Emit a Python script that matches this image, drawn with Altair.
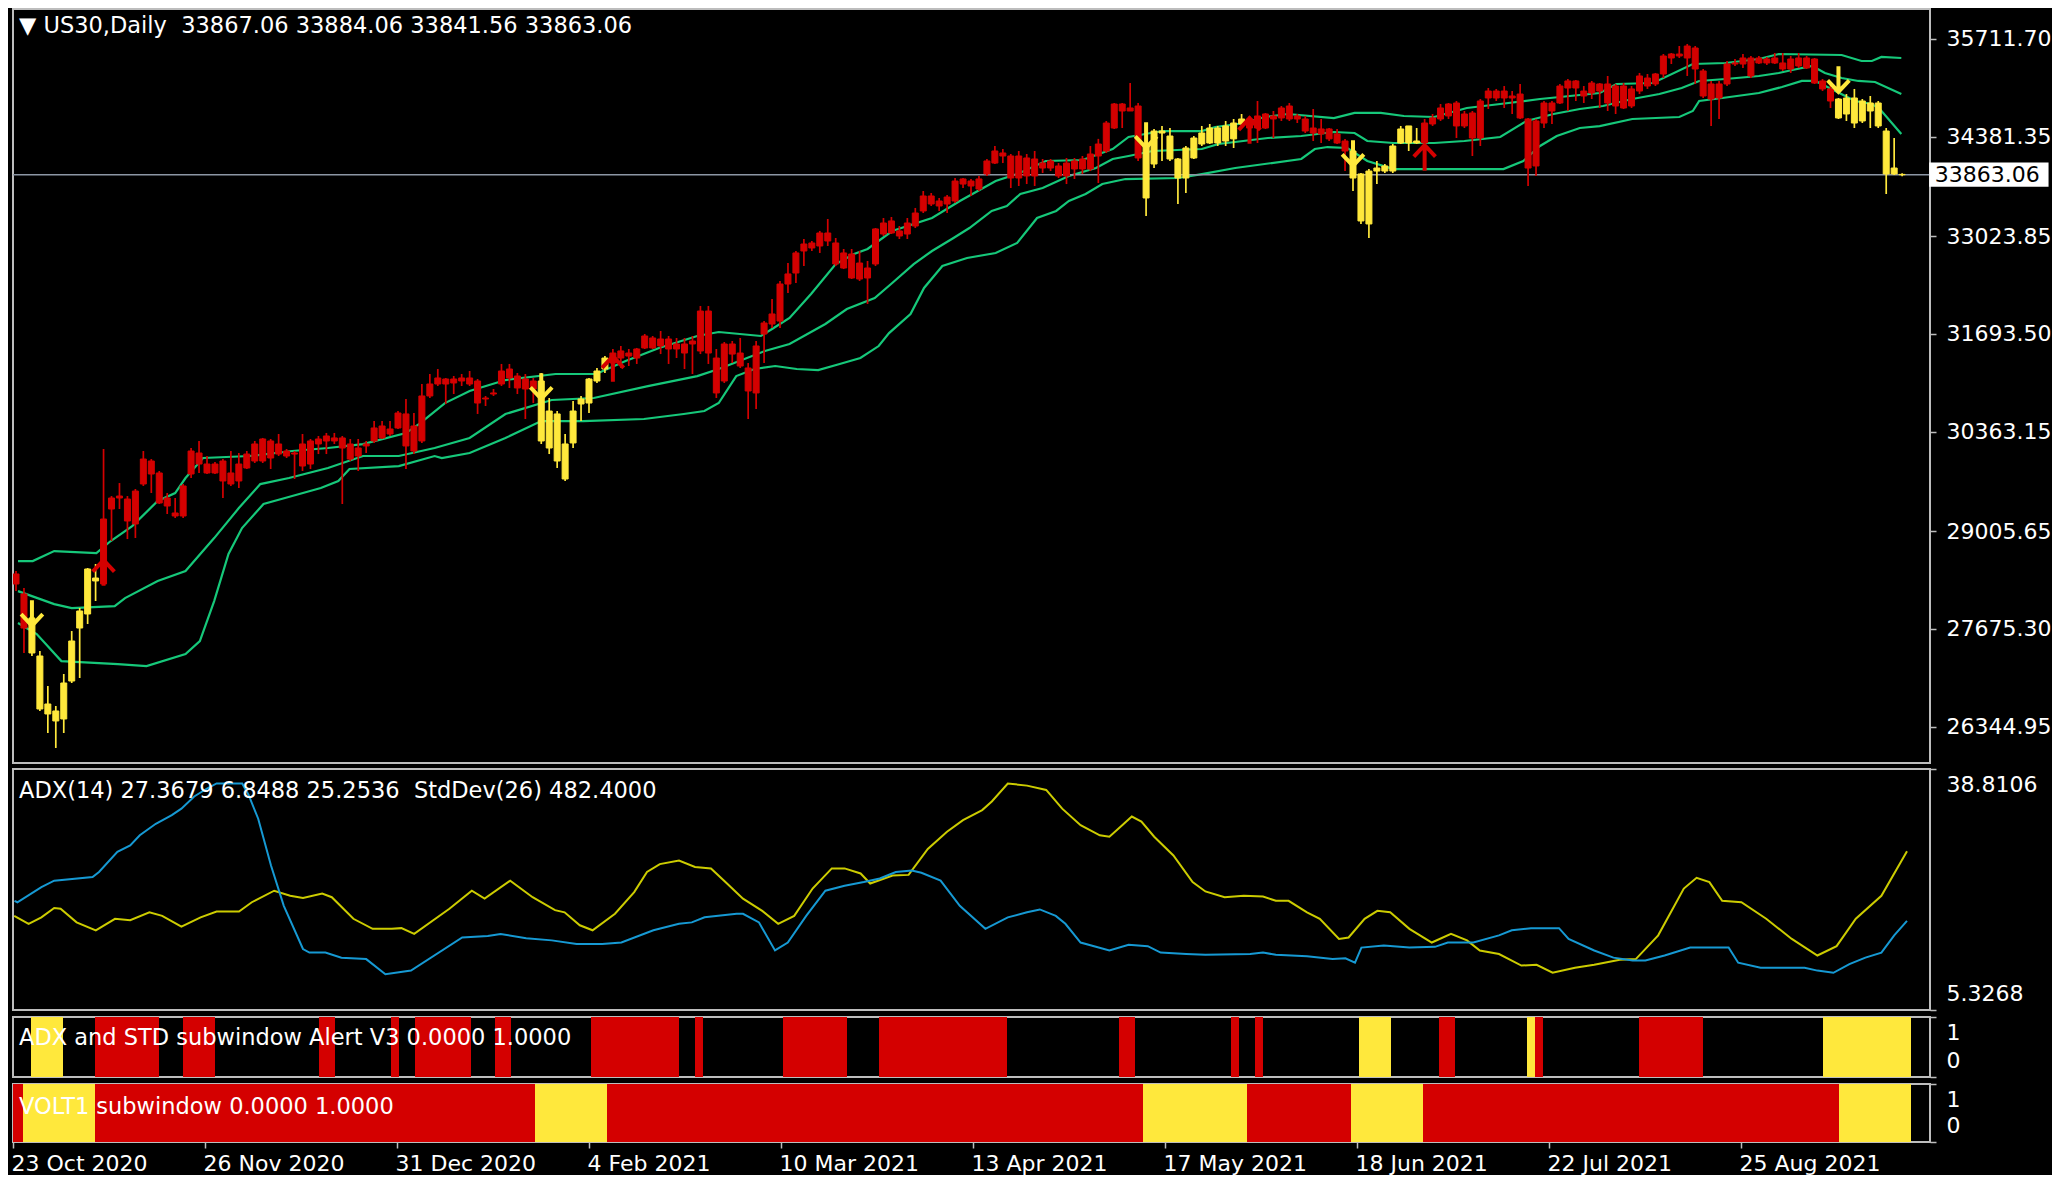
import altair as alt
import pandas as pd

FONT = "DejaVu Sans"
BG = "#000000"
FRAME = "#BDBDBD"
TXT = "#FFFFFF"
RED = "#D40000"
YEL = "#FFE83C"
GREEN = "#16C87A"
BLUE = "#1699D3"
ADXY = "#CCCC00"
PLINE = "#8C96A4"

# ---------------- data ----------------
bar_idx = list(range(-1, 237))

close_ = [28424, 28152, 27825, 27307, 26653, 26558, 26939, 27511, 27920, 28492,
          28369, 29173, 29459, 29486, 29445, 29554, 29990, 29963, 29800, 29459,
          29255, 29623, 30099, 30072, 29922, 29922, 29963, 29800, 29922, 30058,
          30195, 30263, 30236, 30195, 30099, 30072, 30195, 30236, 30263, 30304,
          30277, 30277, 30195, 30140, 30195, 30413, 30440, 30399, 30617, 30604,
          30440, 30849, 31012, 31094, 31080, 31080, 31094, 31094, 31053, 30821,
          30890, 31189, 31216, 31121, 31080, 31053, 31053, 30644, 30604, 30195,
          30644, 30808, 31080, 31189, 31366, 31434, 31462, 31434, 31489, 31666,
          31639, 31625, 31625, 31557, 31557, 31598, 32006, 32006, 31366, 31557,
          31557, 31434, 31230, 31530, 31843, 31966, 32374, 32511, 32797, 32919,
          32933, 33069, 33069, 32933, 32797, 32783, 32660, 32592, 33124, 33205,
          33233, 33097, 33205, 33341, 33573, 33573, 33505, 33559, 33777, 33805,
          33777, 33805, 34050, 34186, 34159, 34118, 34118, 34091, 34077, 34022,
          34050, 33982, 34022, 34050, 34077, 34145, 34281, 34567, 34826, 34826,
          34772, 34799, 34281, 34458, 34458, 34390, 34077, 34227, 34363, 34431,
          34499, 34499, 34527, 34567, 34622, 34622, 34663, 34690, 34663, 34772,
          34799, 34663, 34622, 34499, 34486, 34486, 34418, 34322, 34186, 33873,
          33913, 33954, 33982, 34254, 34486, 34527, 34322, 34567, 34636, 34772,
          34826, 34840, 34690, 34704, 34867, 35003, 35003, 35003, 34935, 34962,
          34622, 34595, 34840, 34840, 35071, 35140, 35140, 35003, 35112, 35099,
          35099, 35071, 35071, 35031, 35208, 35180, 35235, 35480, 35507, 35507,
          35616, 35589, 35276, 35099, 35099, 35371, 35385, 35453, 35453, 35453,
          35439, 35453, 35385, 35439, 35453, 35453, 35439, 35140, 35031, 34894,
          34908, 34908, 34867, 34840, 34840, 34458, 33954, 33863.06]

open_ = [28288, 27688, 27348, 26585, 26517, 26422, 26449, 26966, 27688, 27879,
         28329, 28288, 29309, 29459, 29146, 29105, 29650, 29786, 29391, 29350,
         29214, 29214, 29786, 29922, 29800, 29800, 29691, 29650, 29691, 29868,
         29963, 29963, 30004, 30058, 30031, 30058, 29895, 29922, 30195, 30236,
         30236, 30140, 29990, 30031, 30168, 30236, 30277, 30331, 30413, 30168,
         30099, 30236, 30849, 31012, 31012, 31026, 31053, 31012, 30753, 30808,
         30876, 31012, 31094, 30958, 30944, 30944, 30236, 30140, 29963, 29718,
         30209, 30740, 30753, 31053, 31216, 31298, 31366, 31393, 31366, 31503,
         31503, 31530, 31489, 31489, 31434, 31557, 31462, 31434, 30890, 31053,
         31420, 31257, 30917, 30890, 31693, 31829, 31870, 32374, 32524, 32824,
         32865, 32892, 32960, 32647, 32592, 32456, 32442, 32456, 32647, 33055,
         33069, 33028, 33055, 33164, 33369, 33464, 33437, 33464, 33505, 33736,
         33709, 33668, 33873, 34022, 34118, 33818, 33818, 33846, 33846, 33954,
         33954, 33846, 33846, 33941, 33941, 33941, 34118, 34186, 34499, 34731,
         34731, 34091, 33546, 34009, 34431, 34077, 33818, 33818, 34091, 34281,
         34295, 34295, 34322, 34351, 34554, 34499, 34499, 34499, 34622, 34636,
         34622, 34622, 34458, 34431, 34418, 34351, 34295, 34186, 33818, 33233,
         33192, 33913, 33913, 33913, 34295, 34295, 34295, 34295, 34554, 34622,
         34663, 34527, 34527, 34363, 34363, 34908, 34908, 34908, 34908, 34636,
         33954, 33982, 34567, 34731, 34840, 35044, 35044, 34935, 34976, 35003,
         34840, 34799, 34772, 34799, 35003, 35071, 35099, 35235, 35453, 35480,
         35453, 35303, 34935, 34894, 34908, 35099, 35371, 35371, 35208, 35385,
         35385, 35385, 35303, 35303, 35344, 35317, 35112, 35031, 34867, 34636,
         34690, 34567, 34595, 34731, 34527, 33873, 33873, 33867.06]

high = [28465, 28233, 27893, 27375, 26898, 26626, 27062, 27647, 27961, 28506,
        28560, 30127, 29486, 29663, 29486, 29582, 30099, 29990, 29827, 29527,
        29459, 29650, 30140, 30236, 30031, 29950, 29990, 30099, 30072, 30099,
        30236, 30277, 30263, 30331, 30127, 30099, 30331, 30263, 30304, 30345,
        30345, 30304, 30263, 30263, 30236, 30508, 30508, 30508, 30644, 30808,
        30617, 31012, 31148, 31216, 31094, 31121, 31148, 31189, 31080, 30849,
        30944, 31285, 31285, 31162, 31148, 31094, 31162, 30821, 30644, 30331,
        30781, 30849, 31094, 31230, 31393, 31489, 31530, 31489, 31503, 31693,
        31666, 31734, 31666, 31639, 31639, 31666, 32075, 32075, 31489, 31584,
        31598, 31639, 31298, 31598, 31870, 32170, 32415, 32660, 32824, 32987,
        32960, 33097, 33260, 33001, 32851, 32851, 32824, 32688, 33137, 33273,
        33287, 33164, 33273, 33410, 33641, 33614, 33546, 33587, 33818, 33818,
        33805, 33846, 34077, 34254, 34213, 34145, 34186, 34145, 34186, 34077,
        34077, 34022, 34091, 34091, 34118, 34254, 34351, 34595, 34840, 34840,
        35112, 34840, 34390, 34486, 34527, 34499, 34091, 34254, 34390, 34527,
        34554, 34527, 34595, 34622, 34690, 34663, 34867, 34704, 34731, 34799,
        34840, 34690, 34663, 34758, 34622, 34499, 34486, 34351, 34322, 33886,
        33941, 34050, 34009, 34281, 34527, 34527, 34499, 34622, 34690, 34826,
        34840, 34867, 34731, 34731, 34894, 35044, 35031, 35071, 35003, 35099,
        34636, 34622, 34867, 34867, 35099, 35167, 35153, 35071, 35140, 35112,
        35208, 35099, 35112, 35071, 35249, 35235, 35249, 35507, 35521, 35616,
        35644, 35616, 35303, 35140, 35140, 35412, 35439, 35507, 35480, 35480,
        35466, 35521, 35521, 35480, 35521, 35480, 35453, 35167, 35112, 34908,
        34962, 35031, 34894, 34935, 34867, 34499, 34363, 33884.06]

low = [28191, 27348, 27307, 26558, 26258, 26054, 26258, 26939, 27007, 27743,
       28056, 28288, 28873, 29309, 28900, 28914, 29623, 29527, 29377, 29241,
       29187, 29187, 29732, 29800, 29786, 29786, 29459, 29623, 29595, 29854,
       29936, 29936, 29854, 30031, 30004, 29718, 29827, 29854, 30058, 30058,
       30195, 29377, 29963, 29827, 30072, 30209, 30263, 30304, 30399, 29854,
       30058, 30209, 30821, 30985, 30740, 30876, 30985, 30985, 30604, 30712,
       30849, 30985, 30958, 30876, 30535, 30753, 30195, 30058, 29868, 29691,
       30140, 30508, 30617, 31026, 31162, 31189, 31230, 31257, 31285, 31489,
       31489, 31420, 31285, 31366, 31216, 31148, 31420, 31285, 30821, 31026,
       31298, 31230, 30535, 30671, 31298, 31775, 31775, 32252, 32388, 32619,
       32824, 32797, 32892, 32619, 32578, 32442, 32415, 32102, 32619, 33028,
       33055, 32987, 32987, 33137, 33341, 33437, 33369, 33341, 33478, 33682,
       33573, 33641, 33846, 34009, 34022, 33682, 33709, 33736, 33709, 33886,
       33913, 33818, 33736, 33805, 33873, 33913, 33750, 34159, 34486, 34499,
       34731, 34050, 33300, 33954, 34050, 34050, 33464, 33614, 34077, 34254,
       34281, 34254, 34254, 34227, 34527, 34458, 34295, 34486, 34363, 34595,
       34595, 34567, 34431, 34322, 34295, 34322, 34281, 33913, 33641, 33192,
       33001, 33736, 33886, 33886, 34281, 34186, 34281, 34254, 34527, 34595,
       34622, 34363, 34499, 34118, 34254, 34758, 34867, 34772, 34690, 34622,
       33709, 33846, 34499, 34554, 34826, 34731, 34867, 34840, 34894, 34772,
       34731, 34690, 34758, 34772, 34962, 35031, 35071, 35180, 35371, 35453,
       35208, 35099, 34908, 34527, 34622, 35071, 35344, 35317, 35180, 35371,
       35358, 35371, 35276, 35249, 35317, 35303, 35099, 35003, 34772, 34622,
       34595, 34499, 34567, 34499, 34499, 33600, 33859, 33841.56]

# regime segments (VOLT1 subwindow) -> also candle colours
volt_start = [-1, 1, 10, 65, 74, 141, 154, 167, 176, 228]
volt_end = [0, 9, 64, 73, 140, 153, 166, 175, 227, 236]
volt_col = ["red", "yellow", "red", "yellow", "red", "yellow", "red", "yellow", "red", "yellow"]

# ADX and STD subwindow Alert V3 segments
alert_start = [2, 10, 21, 38, 47, 50, 60, 72, 85, 96, 108, 138, 152, 155, 168, 178, 189, 190, 203, 226]
alert_end = [5, 17, 24, 39, 47, 56, 61, 82, 85, 103, 123, 139, 152, 155, 171, 179, 189, 190, 210, 236]
alert_col = ["yellow", "red", "red", "red", "red", "red", "red", "red", "red", "red",
             "red", "red", "red", "red", "yellow", "red", "yellow", "red", "red", "yellow"]

# bands
upper_idx = [-0.75, 1.1, 3.8, 9.1, 10.9, 13.6, 16.8, 19.0, 20.3, 22.5, 28.4, 33.7, 38.2, 42.6, 48.0,
             49.8, 52.9, 56.0, 60.5, 66.8, 71.9, 75.6, 79.8, 84.6, 87.3, 92.6, 94.0, 96.2, 98.9, 102.0,
             104.3, 106.0, 109.1, 114.1, 117.6, 122.1, 125.1, 128.4, 133.0, 136.8, 138.8, 143.0, 148.0,
             149.7, 153.4, 155.9, 158.8, 164.6, 167.2, 170.5, 173.4, 177.2, 181.3, 185.5, 190.5, 198.0,
             200.1, 204.7, 209.7, 213.8, 218.0, 220.5, 228.4, 230.9, 232.2, 233.4, 235.9]
upper_val = [28600, 28600, 28736, 28709, 28873, 29077, 29418, 29527, 29731, 30004, 30031, 30099, 30140,
             30194, 30344, 30480, 30752, 30916, 31066, 31148, 31148, 31325, 31502, 31666, 31720, 31666,
             31761, 31911, 32238, 32646, 32783, 32851, 33096, 33273, 33505, 33777, 33886, 34050, 34063,
             34213, 34377, 34458, 34458, 34513, 34567, 34649, 34690, 34635, 34704, 34704, 34663, 34649,
             34772, 34826, 34894, 34976, 35099, 35112, 35371, 35385, 35439, 35507, 35494, 35412, 35412,
             35467, 35453]
middle_idx = [-0.75, 3.8, 6.0, 11.4, 12.7, 16.8, 20.3, 23.9, 27.0, 29.7, 33.3, 38.2, 42.6, 47.1, 51.6,
              56.0, 60.5, 66.3, 71.6, 78.4, 84.6, 87.3, 93.1, 96.2, 100.7, 103.4, 106.9, 109.1, 111.8,
              114.1, 116.8, 118.8, 121.6, 123.5, 125.2, 128.0, 131.3, 134.7, 136.8, 138.8, 141.8, 148.0,
              150.1, 156.3, 160.5, 164.6, 167.2, 168.8, 172.1, 177.2, 181.0, 185.5, 188.8, 192.2, 195.5,
              198.4, 202.1, 205.5, 208.3, 210.5, 213.8, 218.0, 220.5, 222.2, 224.7, 226.3, 228.4, 230.5,
              232.6, 235.9]
middle_val = [28191, 28014, 27960, 27987, 28096, 28328, 28464, 28913, 29322, 29649, 29731, 29867, 30031,
              30031, 30140, 30276, 30603, 30794, 30821, 30984, 31120, 31216, 31461, 31557, 31829, 32033,
              32183, 32388, 32646, 32824, 33001, 33137, 33369, 33437, 33600, 33682, 33845, 33954, 34077,
              34118, 34186, 34213, 34281, 34363, 34390, 34445, 34431, 34322, 34295, 34295, 34322, 34377,
              34595, 34690, 34758, 34799, 34894, 34962, 35044, 35140, 35167, 35208, 35249, 35289, 35344,
              35249, 35180, 35140, 35126, 34962]
lower_idx = [-0.75, 1.6, 4.7, 11.8, 15.4, 20.3, 22.1, 23.9, 25.7, 27.4, 30.1, 32.8, 37.3, 39.5, 40.9,
             47.1, 51.6, 52.5, 56.0, 60.5, 65.0, 70.3, 77.9, 82.9, 85.5, 87.3, 89.5, 91.8, 94.4, 97.1,
             99.8, 102.5, 105.1, 107.4, 108.7, 111.4, 113.1, 115.4, 118.5, 122.1, 124.8, 127.3, 129.7,
             131.3, 133.4, 135.5, 138.4, 145.1, 148.0, 152.2, 160.5, 162.2, 163.8, 166.3, 168.8, 172.1,
             185.9, 188.4, 190.5, 192.6, 195.5, 198.0, 202.1, 208.0, 209.7, 210.5, 213.4, 218.0, 220.9,
             223.4, 225.1, 227.6, 230.1, 232.2, 233.2, 235.9]
lower_val = [27756, 27606, 27238, 27197, 27170, 27333, 27510, 28055, 28696, 29050, 29377, 29459, 29595,
             29690, 29854, 29894, 30031, 30004, 30072, 30276, 30507, 30507, 30535, 30603, 30644, 30753,
             31120, 31216, 31257, 31216, 31202, 31284, 31366, 31529, 31706, 31965, 32320, 32619, 32728,
             32796, 32933, 33273, 33369, 33505, 33600, 33736, 33804, 33818, 33872, 33954, 34077, 34213,
             34240, 34227, 34050, 33940, 33940, 34050, 34254, 34390, 34499, 34526, 34622, 34649, 34731,
             34867, 34908, 34976, 35058, 35140, 35140, 35003, 34867, 34826, 34758, 34418]

# signal arrows
arrow_idx = [1, 10, 65, 74, 141, 154, 167, 176, 228]
arrow_price = [27893, 28438, 30985, 31216, 34404, 34458, 34159, 34091, 35167]
arrow_dir = ["down", "up", "down", "up", "down", "up", "down", "up", "down"]

# ADX subwindow
adx_blue_idx = [-0.56, -0.2, 2.8, 4.4, 9.2, 10.0, 12.3, 13.9, 15.1, 17.1, 19.1, 20.3, 21.9, 23.5, 24.7,
                27.9, 28.7, 29.9, 31.5, 33.1, 35.5, 36.3, 38.3, 40.3, 43.4, 45.8, 49.0, 55.4, 58.6, 60.2,
                63.4, 66.6, 69.7, 72.9, 75.3, 79.3, 82.5, 84.1, 85.7, 89.7, 90.5, 92.5, 94.5, 96.1, 98.4,
                100.8, 103.2, 105.6, 107.6, 109.6, 111.6, 112.8, 115.2, 117.6, 120.8, 123.6, 126.0, 127.6,
                129.6, 130.8, 132.7, 136.3, 138.7, 141.1, 142.7, 145.9, 148.3, 153.9, 155.5, 157.1, 161.0,
                164.2, 165.8, 167.0, 167.8, 170.6, 173.8, 177.0, 178.6, 181.8, 185.0, 186.6, 189.0, 192.5,
                193.7, 196.9, 199.3, 201.7, 203.3, 205.7, 208.9, 213.7, 214.9, 217.7, 223.2, 224.8, 226.8,
                228.8, 230.8, 232.8, 234.4, 236.0]
adx_blue_val = [20.5, 20.3, 22.4, 23.3, 23.8, 24.5, 27.3, 28.2, 29.6, 31.2, 32.4, 33.3, 35.0, 36.1, 36.8,
                36.8, 35.2, 31.9, 25.4, 19.8, 13.8, 13.3, 13.3, 12.6, 12.4, 10.3, 10.8, 15.4, 15.6, 15.9,
                15.3, 15.0, 14.5, 14.5, 14.7, 16.4, 17.3, 17.5, 18.2, 18.7, 18.7, 17.5, 13.6, 14.7, 18.4,
                21.9, 22.6, 23.1, 23.6, 24.5, 24.7, 24.4, 23.3, 19.8, 16.6, 18.2, 18.9, 19.3,
                18.4, 17.3, 14.7, 13.6, 14.4, 14.2, 13.3, 13.1, 13.0, 13.1, 13.3, 13.0, 12.8,
                12.4, 12.5, 11.9, 14.0, 14.3, 14.0, 14.1, 14.7, 14.7, 15.7, 16.4, 16.7, 16.7,
                15.2, 13.6, 12.6, 12.2, 12.2, 12.9, 14.0, 14.0, 11.9, 11.2, 11.2, 10.8, 10.5,
                11.7, 12.6, 13.3, 15.7, 17.7]
adx_yel_idx = [-0.6, 1.2, 2.8, 4.4, 5.2, 7.2, 9.6, 12.0, 13.9, 16.3, 17.9, 20.3, 22.7, 24.7, 27.5, 29.1,
               31.9, 33.9, 35.5, 37.9, 39.1, 41.8, 44.2, 46.6, 47.8, 49.4, 53.8, 56.6, 58.2, 61.4, 64.2,
               67.0, 68.2, 70.1, 71.7, 74.5, 76.9, 78.5, 80.1, 82.5, 84.5, 86.5, 88.5, 90.5, 92.9, 94.9,
               96.9, 99.2, 101.6, 103.2, 105.2, 106.4, 109.2, 111.2, 113.6, 116.0, 118.0, 120.4, 121.6,
               123.6, 126.0, 128.4, 130.4, 132.7, 135.1, 136.3, 137.9, 139.1, 140.3, 141.9, 144.3, 146.7,
               148.3, 150.7, 153.1, 155.5, 157.1, 158.7, 161.0, 162.6, 165.0, 166.2, 168.2, 169.8, 171.4,
               173.8, 176.6, 179.0, 181.0, 182.6, 185.0, 187.8, 189.7, 191.7, 194.5, 196.9, 200.1, 202.1,
               204.9, 208.1, 209.7, 211.3, 212.9, 215.3, 218.4, 221.6, 224.8, 227.2, 229.6, 232.8, 236.0]
adx_yel_val = [18.4, 17.3, 18.2, 19.5, 19.4, 17.5, 16.4, 18.0, 17.8, 18.9, 18.4, 16.9, 18.2, 19.0, 19.0,
               20.3, 21.9, 21.2, 20.9, 21.5, 21.0, 18.0, 16.6, 16.6, 16.7, 15.9, 19.4, 21.9, 20.8, 23.3,
               21.0, 19.2, 18.9, 17.1, 16.4, 18.7, 21.7, 24.5, 25.6, 26.1, 25.2, 25.0, 22.9, 20.8, 19.1,
               17.3, 18.4, 22.2, 25.0, 25.0, 24.3, 22.9, 24.0, 24.1, 27.7, 30.1, 31.7, 33.1, 34.3,
               36.8, 36.5, 35.9, 33.3, 31.0, 29.6, 29.4, 31.0, 32.2, 31.5, 29.4, 26.8, 23.1,
               21.8, 21.0, 21.2, 21.1, 20.5, 20.5, 18.9, 18.0, 15.2, 15.4, 18.0, 19.1, 18.9,
               16.6, 14.7, 15.9, 15.0, 13.6, 13.1, 11.5, 11.6, 10.5, 11.2, 11.6, 12.3, 12.4,
               15.7, 22.2, 23.7, 23.1, 20.5, 20.3, 18.0, 15.2, 12.9, 14.2, 18.0, 21.2, 27.4]

price_ticks = [26344.95, 27675.30, 29005.65, 30363.15, 31693.50, 33023.85, 34381.35, 35711.70]
last_price = 33863.06
adx_ticks = [5.3268, 38.8106]
date_ticks = [-0.75, 23.25, 47.25, 71.25, 95.25, 119.25, 143.25, 167.25, 191.25, 215.25]
date_labels = ["23 Oct 2020", "26 Nov 2020", "31 Dec 2020", "4 Feb 2021", "10 Mar 2021",
               "13 Apr 2021", "17 May 2021", "18 Jun 2021", "22 Jul 2021", "25 Aug 2021"]

title_main = "\u25BC US30,Daily\u00a0 33867.06 33884.06 33841.56 33863.06"
title_adx = "ADX(14) 27.3679 6.8488 25.2536\u00a0 StdDev(26) 482.4000"
title_alert = "ADX and STD subwindow Alert V3 0.0000 1.0000"
title_volt = "VOLT1 subwindow 0.0000 1.0000"

# ---------------- frames ----------------
regime = []
for i in bar_idx:
    for s, e, col in zip(volt_start, volt_end, volt_col):
        if s <= i <= e:
            regime.append(col)
            break

cdf = pd.DataFrame({"i": bar_idx, "o": open_, "h": high, "l": low, "c": close_, "regime": regime})
bands = pd.concat([
    pd.DataFrame({"band": "upper", "i": upper_idx, "v": upper_val}),
    pd.DataFrame({"band": "middle", "i": middle_idx, "v": middle_val}),
    pd.DataFrame({"band": "lower", "i": lower_idx, "v": lower_val}),
])
adf = pd.DataFrame({"i": arrow_idx, "p": arrow_price, "d": arrow_dir})
volt_df = pd.DataFrame({"s": volt_start, "e": volt_end, "col": volt_col, "lo": 0, "hi": 1})
alert_df = pd.DataFrame({"s": alert_start, "e": alert_end, "col": alert_col, "lo": 0, "hi": 1})
blue_df = pd.DataFrame({"i": adx_blue_idx, "v": adx_blue_val})
yel_df = pd.DataFrame({"i": adx_yel_idx, "v": adx_yel_val})

# ---------------- scales / axes ----------------
W = 1917
XDOM = [-0.75, 238.875]
xs = alt.Scale(domain=XDOM, nice=False, zero=False)
ymain = alt.Scale(domain=[25849.3, 36120.3], nice=False, zero=False)
cscale = alt.Scale(domain=["red", "yellow"], range=[RED, YEL])


def right_axis(values, fmt, flush=False):
    return alt.Axis(orient="right", values=values, format=fmt, grid=False, domain=False,
                    ticks=True, tickSize=6, tickColor=FRAME, tickWidth=1.5,
                    labelPadding=10, labelColor=TXT, labelFont=FONT, labelFontSize=22,
                    labelFlush=flush, labelFlushOffset=-5, labelOverlap=False, title=None)


def caption(text, ypix):
    return alt.Chart(pd.DataFrame({"t": [text]})).mark_text(
        align="left", baseline="middle", color=TXT, font=FONT, fontSize=22.5).encode(
        x=alt.value(6), y=alt.value(ypix), text="t:N")


price_axis = right_axis(price_ticks, ".2f")
X = alt.X("i:Q", scale=xs, axis=None)

band_layer = alt.Chart(bands).mark_line(color=GREEN, strokeWidth=2.2, clip=True).encode(
    x=X, y=alt.Y("v:Q", scale=ymain, axis=price_axis), detail="band:N")
pline = alt.Chart(pd.DataFrame({"p": [last_price]})).mark_rule(color=PLINE, strokeWidth=1.5).encode(
    y=alt.Y("p:Q", scale=ymain, axis=price_axis))
wicks = alt.Chart(cdf).mark_rule(strokeWidth=1.7, clip=True).encode(
    x=X, y=alt.Y("l:Q", scale=ymain, axis=price_axis), y2="h:Q",
    color=alt.Color("regime:N", scale=cscale, legend=None))
bodies = alt.Chart(cdf).mark_bar(size=6, strokeWidth=1, clip=True).encode(
    x=X, y=alt.Y("o:Q", scale=ymain, axis=price_axis), y2="c:Q",
    color=alt.Color("regime:N", scale=cscale, legend=None),
    stroke=alt.Stroke("regime:N", scale=cscale, legend=None))
DOWN = "M0,-1L0,1M-0.85,0.1L0,1L0.85,0.1"
UP = "M0,1L0,-1M-0.85,-0.1L0,-1L0.85,-0.1"
arr_down = alt.Chart(adf).transform_filter("datum.d == 'down'").mark_point(
    shape=DOWN, size=650, filled=False, strokeWidth=4, color=YEL, opacity=1, clip=True).encode(
    x=X, y=alt.Y("p:Q", scale=ymain, axis=price_axis))
arr_up = alt.Chart(adf).transform_filter("datum.d == 'up'").mark_point(
    shape=UP, size=650, filled=False, strokeWidth=4, color=RED, opacity=1, clip=True).encode(
    x=X, y=alt.Y("p:Q", scale=ymain, axis=price_axis))

box_df = pd.DataFrame({"p": [last_price], "txt": [f"{last_price:.2f}"]})
pbox = alt.Chart(box_df).transform_calculate(
    x1="239.4", x2="254.4", y1="datum.p - 165", y2="datum.p + 165").mark_rect(
    color="#FFFFFF", clip=False).encode(
    x=alt.X("x1:Q", scale=xs, axis=None), x2="x2:Q",
    y=alt.Y("y1:Q", scale=ymain, axis=price_axis), y2="y2:Q")
ptext = alt.Chart(box_df).transform_calculate(xt="240.1").mark_text(
    align="left", baseline="middle", color="#000000", font=FONT, fontSize=22, clip=False).encode(
    x=alt.X("xt:Q", scale=xs, axis=None), y=alt.Y("p:Q", scale=ymain, axis=price_axis), text="txt:N")

main = alt.layer(band_layer, pline, wicks, bodies, arr_down, arr_up, pbox, ptext,
                 caption(title_main, 17)).properties(width=W, height=754)

adx_scale = alt.Scale(domain=[5.3268, 38.8106], nice=False, zero=False)
adx_axis = right_axis(adx_ticks, ".4f", flush=True)
adx_y = alt.Chart(yel_df).mark_line(color=ADXY, strokeWidth=2, clip=True).encode(
    x=X, y=alt.Y("v:Q", scale=adx_scale, axis=adx_axis))
adx_b = alt.Chart(blue_df).mark_line(color=BLUE, strokeWidth=2, clip=True).encode(
    x=X, y=alt.Y("v:Q", scale=adx_scale, axis=adx_axis))
adx = alt.layer(adx_y, adx_b, caption(title_adx, 22)).properties(width=W, height=241)

s01 = alt.Scale(domain=[0, 1], nice=False, zero=False)
ax01 = right_axis([0, 1], "d", flush=True)

alert_rects = alt.Chart(alert_df).transform_calculate(
    x1="datum.s - 0.5", x2="datum.e + 0.5").mark_rect(clip=True).encode(
    x=alt.X("x1:Q", scale=xs, axis=None), x2="x2:Q",
    y=alt.Y("hi:Q", scale=s01, axis=ax01), y2="lo:Q",
    color=alt.Color("col:N", scale=cscale, legend=None))
alert = alt.layer(alert_rects, caption(title_alert, 21)).properties(width=W, height=60)

label_expr = "{}[indexof({}, datum.value)]".format(
    "[" + ",".join("'" + s + "'" for s in date_labels) + "]",
    "[" + ",".join(str(t) for t in date_ticks) + "]")
xaxis = alt.Axis(values=date_ticks, labelExpr=label_expr, labelAlign="left", labelBaseline="top",
                 labelPadding=5, labelOffset=-2, tickSize=6, tickColor=FRAME, tickWidth=1.5,
                 domain=False, grid=False, labelColor=TXT, labelFont=FONT, labelFontSize=22,
                 labelFlush=False, labelOverlap=False, title=None)

volt_rects = alt.Chart(volt_df).transform_calculate(
    x1="datum.s - 0.5", x2="datum.e + 0.5").mark_rect(clip=True).encode(
    x=alt.X("x1:Q", scale=xs, axis=xaxis), x2="x2:Q",
    y=alt.Y("hi:Q", scale=s01, axis=ax01), y2="lo:Q",
    color=alt.Color("col:N", scale=cscale, legend=None))
volt = alt.layer(volt_rects, caption(title_volt, 23)).properties(width=W, height=58)

chart = alt.vconcat(main, adx, alert, volt, spacing=3).resolve_scale(
    y="independent", color="independent").configure(
    background=BG, padding={"left": 2, "top": 0, "right": 0, "bottom": 0}).configure_view(
    stroke=FRAME, strokeWidth=2)

chart.save("out.html", embed_options={"renderer": "svg", "actions": False})
